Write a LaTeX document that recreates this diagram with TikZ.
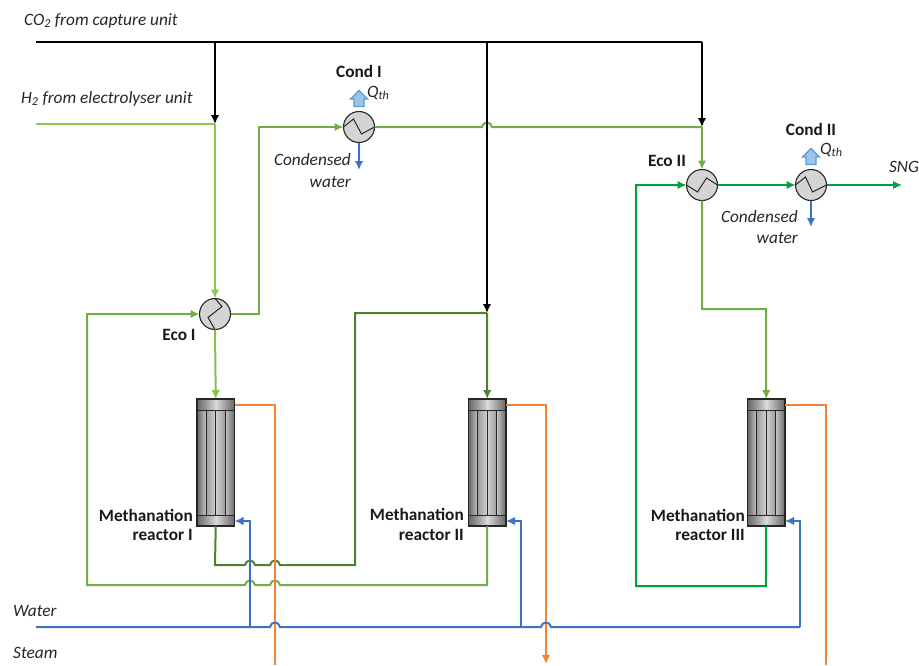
\documentclass[tikz,border=0pt]{standalone}
\usepackage{fontspec}
\setmainfont{Carlito}
\usetikzlibrary{arrows.meta}
\definecolor{h2green}{HTML}{8CC850}
\definecolor{midgreen}{HTML}{70AD47}
\definecolor{darkgreen}{HTML}{4F7F30}
\definecolor{sngreen}{HTML}{00A03C}
\definecolor{wblue}{HTML}{3A72C4}
\definecolor{sorange}{HTML}{F58232}
\definecolor{hxgray}{HTML}{D4D4D4}
\definecolor{qborder}{HTML}{5B9BD5}
\definecolor{qfill}{HTML}{9DC3E6}
\newcommand{\hopr}[2]{-- (#1-5,#2) .. controls (#1-4,#2-6) and (#1+4,#2-6) .. (#1+5,#2)}
\newcommand{\hopl}[2]{-- (#1+5,#2) .. controls (#1+4,#2-6) and (#1-4,#2-6) .. (#1-5,#2)}
\newcommand{\reactor}[2]{%
  \shade[left color=black!60, right color=black!22] (#1,399) rectangle (#1+9.3,526);
  \shade[left color=black!38, right color=black!18] (#1+9.3,399) rectangle (#1+18.7,526);
  \shade[left color=black!18, right color=black!38] (#1+18.7,399) rectangle (#1+28,526);
  \shade[left color=black!22, right color=black!60] (#1+28,399) rectangle (#1+37.5,526);
  \shade[left color=black!60, right color=black!15] (#1,399) rectangle (#1+19,410);
  \shade[left color=black!15, right color=black!60] (#1+19,399) rectangle (#1+37.5,410);
  \shade[left color=black!60, right color=black!15] (#1,515) rectangle (#1+19,526);
  \shade[left color=black!15, right color=black!60] (#1+19,515) rectangle (#1+37.5,526);
  \draw[rline] (#1,410) -- (#1+37.5,410);
  \draw[rline] (#1,515) -- (#1+37.5,515);
  \foreach \a in {9.3,18.7,28}{\draw[rline] (#1+\a,410) -- (#1+\a,515);}
  \node[rbox,anchor=north west] (#2) at (#1,399) {};
}
\tikzset{
  rline/.style={draw=black!85,line width=0.9pt},
  rbox/.style={draw=black!85,line width=1.1pt,minimum width=37.5pt,minimum height=127pt,inner sep=0pt,outer sep=0pt},
  hx/.style={circle,draw=black!85,line width=1.1pt,fill=hxgray,minimum size=31pt,inner sep=0pt,outer sep=0pt},
  zig/.style={draw=black!85,line width=1pt},
  flow/.style={line width=2pt,-{Latex[length=9pt,width=8.5pt]}},
  pipe/.style={line width=2pt},
  lab/.style={font=\fontsize{17.3}{20}\selectfont\itshape,text=black!85,inner sep=0pt},
  eqp/.style={font=\fontsize{17.3}{20}\selectfont\bfseries,text=black!90,inner sep=0pt},
  qarrow/.style={draw=qborder,line width=1.2pt,fill=qfill},
}
\begin{document}
\begin{tikzpicture}[x=1pt,y=-1pt]
\useasboundingbox (0,0) rectangle (919,665);
\clip (0,0) rectangle (919,665);

% named points
\coordinate (co2in) at (36,42);
\coordinate (co2a) at (215,42);
\coordinate (co2b) at (487,42);
\coordinate (co2c) at (702,42);
\coordinate (h2in) at (36,124);
\coordinate (h2j) at (215,124);
\coordinate (mixb) at (487,313);
\coordinate (mixc) at (702,127);
\coordinate (wat) at (36,627);
\coordinate (ja) at (250,627);
\coordinate (jb) at (521,627);
\coordinate (jc) at (800,627);
\coordinate (steamA) at (275,665);
\coordinate (steamB) at (546,664);
\coordinate (steamC) at (826,665);
\coordinate (sng) at (902,185);
\coordinate (w1) at (359,170);
\coordinate (w2) at (811,227);

% equipment
\reactor{197}{r1}
\reactor{468.5}{r2}
\reactor{747.5}{r3}
\node[hx] (eco1) at (215,314) {};
\node[hx] (cond1) at (359,127) {};
\node[hx] (eco2) at (702,185) {};
\node[hx] (cond2) at (811,185) {};

\draw[zig] (eco1.north) -- ++(7,8) -- ++(-14,11) -- (eco1.south);
\draw[zig] (cond1.west) -- ++(10,-8) -- ++(8,15) -- (cond1.east);
\draw[zig] (eco2.west) -- ++(11,7) -- ++(9,-14) -- (eco2.east);
\draw[zig] (cond2.west) -- ++(10,-8) -- ++(7,15) -- (cond2.east);

% light green hydrogen
\draw[pipe,h2green] (h2in) -- (h2j);
\draw[flow,h2green] (h2j) -- (eco1.north);
\draw[flow,h2green!70!midgreen] (eco1.south) -- (r1.north);

% mid green
\draw[flow,midgreen] (eco1.east) -- (259,314) -- (259,127) -- (cond1.west);
\draw[pipe,midgreen] (cond1.east) \hopr{487}{127} -- (mixc);
\draw[flow,midgreen] (mixc) -- (eco2.north);
\draw[flow,midgreen] (eco2.south) -- (702,309) -- (766,309) -- (r3.north);
\draw[flow,midgreen] (r2.south) -- (487,585) \hopl{275}{585} \hopl{250}{585} -- (87,585) -- (87,314) -- (eco1.west);

% dark green
\draw[pipe,darkgreen] (r1.south) -- (215,565) \hopr{250}{565} \hopr{275}{565} -- (355,565) -- (355,313) -- (mixb);
\draw[flow,darkgreen] (mixb) -- (r2.north);

% SNG green
\draw[flow,sngreen] (r3.south) -- (766,586) -- (636,586) -- (636,185) -- (eco2.west);
\draw[flow,sngreen] (eco2.east) -- (cond2.west);
\draw[flow,sngreen] (cond2.east) -- (sng);

% CO2
\draw[pipe,black] (co2in) -- (co2c);
\draw[flow,black] (co2a) -- (h2j);
\draw[flow,black] (co2b) -- (mixb);
\draw[flow,black] (co2c) -- (mixc);

% steam
\draw[pipe,sorange] (r1.east |- 0,405) -- (275,405) -- (steamA);
\draw[flow,sorange] (r2.east |- 0,405) -- (546,405) -- (steamB);
\draw[pipe,sorange] (r3.east |- 0,405) -- (826,405) -- (steamC);

% water
\draw[pipe,wblue] (wat) \hopr{275}{627} \hopr{546}{627} -- (jc);
\draw[flow,wblue] (ja) -- (250,521) -- (r1.east |- 0,521);
\draw[flow,wblue] (jb) -- (521,521) -- (r2.east |- 0,521);
\draw[flow,wblue] (jc) -- (800,521) -- (r3.east |- 0,521);
\draw[flow,wblue] (cond1.south) -- (w1);
\draw[flow,wblue] (cond2.south) -- (w2);

% heat arrows
\draw[qarrow] (354,106.5) -- (354,99) -- (350.5,99) -- (359,90.5) -- (367.5,99) -- (364,99) -- (364,106.5) -- cycle;
\draw[qarrow] (806,164.5) -- (806,157) -- (802.5,157) -- (811,148.5) -- (819.5,157) -- (816,157) -- (816,164.5) -- cycle;

% labels
\node[lab,anchor=west] (tco2) at (24,20.5) {CO\textsubscript{2} from capture unit};
\node[lab,anchor=west] (th2) at (21,98.5) {H\textsubscript{2} from electrolyser unit};
\node[lab,anchor=west] (twater) at (13,611) {Water};
\node[lab,anchor=west] (tsteam) at (13,653) {Steam};
\node[lab,anchor=center] (tsng) at (904,167) {SNG};
\node[eqp] (tc1) at (359,71) {Cond I};
\node[eqp] (tc2) at (811,129) {Cond II};
\node[eqp] (te1) at (179,335) {Eco I};
\node[eqp] (te2) at (667,161) {Eco II};
\node[lab,anchor=west] (q1) at (367,93) {Q\textsubscript{th}};
\node[lab,anchor=west] (q2) at (820,150) {Q\textsubscript{th}};
\node[lab,anchor=east] (cw1a) at (351,160) {Condensed};
\node[lab,anchor=east] (cw1b) at (351,182) {water};
\node[lab,anchor=east] (cw2a) at (798,217) {Condensed};
\node[lab,anchor=east] (cw2b) at (798,238) {water};
\node[eqp,anchor=east] (m1a) at (193,515) {Methanation};
\node[eqp,anchor=east] (m1b) at (193,535) {reactor I};
\node[eqp,anchor=east] (m2a) at (464,514) {Methanation};
\node[eqp,anchor=east] (m2b) at (464,535) {reactor II};
\node[eqp,anchor=east] (m3a) at (745,515) {Methanation};
\node[eqp,anchor=east] (m3b) at (745,535) {reactor III};
\end{tikzpicture}
\end{document}
